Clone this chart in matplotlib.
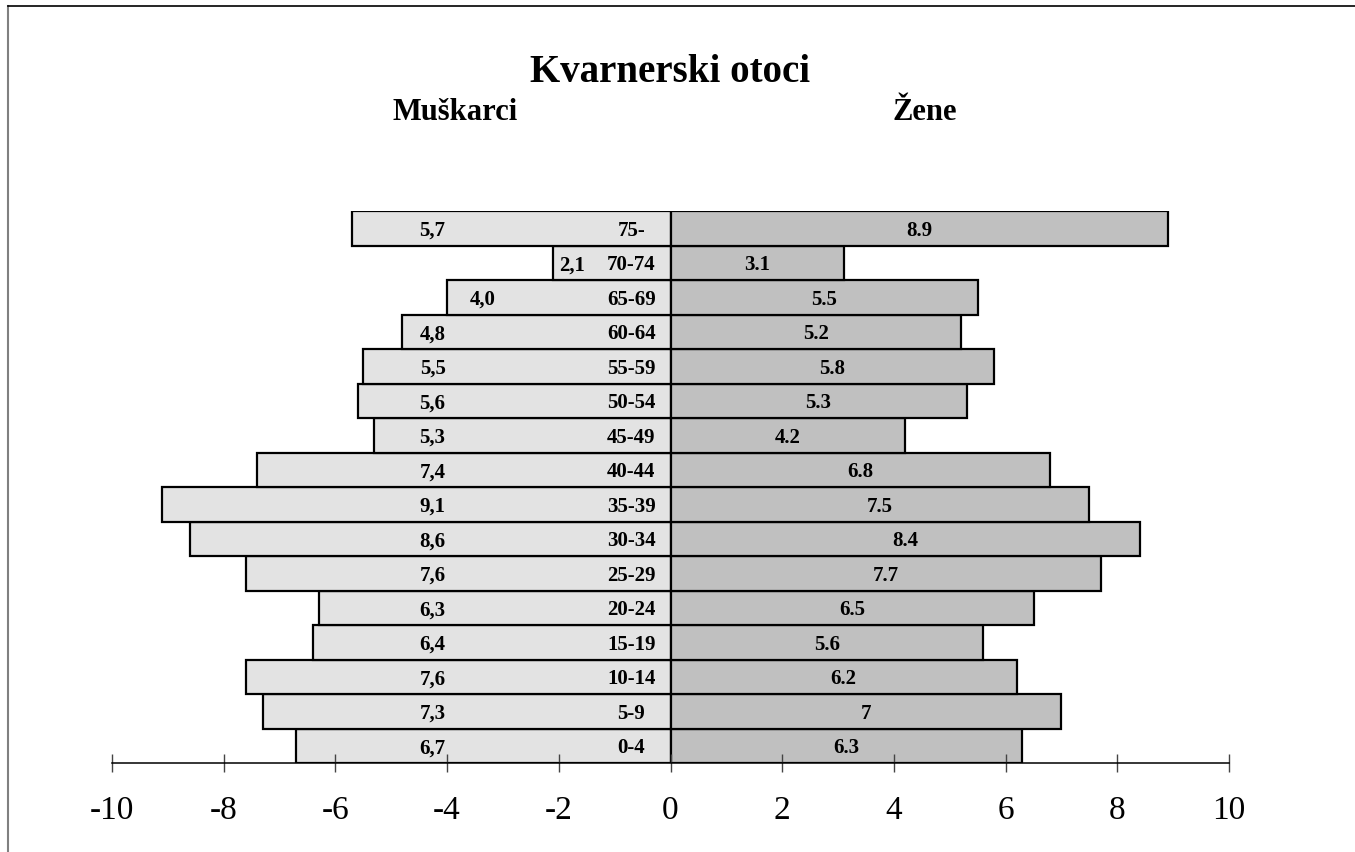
import numpy as np
import matplotlib.pyplot as plt
from matplotlib.lines import Line2D

# Dobne skupine (od najmlađe prema najstarijoj)
ages = ['0-4', '5-9', '10-14', '15-19', '20-24', '25-29', '30-34', '35-39',
        '40-44', '45-49', '50-54', '55-59', '60-64', '65-69', '70-74', '75-']
men = [6.7, 7.3, 7.6, 6.4, 6.3, 7.6, 8.6, 9.1, 7.4, 5.3, 5.6, 5.5, 4.8, 4.0, 2.1, 5.7]
women = [6.3, 7.0, 6.2, 5.6, 6.5, 7.7, 8.4, 7.5, 6.8, 4.2, 5.3, 5.8, 5.2, 5.5, 3.1, 8.9]
men_labels = ['6,7', '7,3', '7,6', '6,4', '6,3', '7,6', '8,6', '9,1', '7,4', '5,3',
              '5,6', '5,5', '4,8', '4,0', '2,1', '5,7']
women_labels = ['6.3', '7', '6.2', '5.6', '6.5', '7.7', '8.4', '7.5', '6.8', '4.2',
                '5.3', '5.8', '5.2', '5.5', '3.1', '8.9']
xticks = [-10, -8, -6, -4, -2, 0, 2, 4, 6, 8, 10]

plt.rcParams['font.family'] = ['Liberation Serif', 'DejaVu Serif']

fig = plt.figure(figsize=(13.55, 8.53), dpi=100)
ax = fig.add_axes([112 / 1355, 89 / 853, 1117 / 1355, 552 / 853])

y = np.arange(len(ages))
m = np.array(men)
w = np.array(women)

ax.barh(y, -m, height=1.0, color='#e3e3e3', edgecolor='black', linewidth=1.6)
ax.barh(y, w, height=1.0, color='#c0c0c0', edgecolor='black', linewidth=1.6)

for i in range(len(ages)):
    # kratke trake: oznaka bliže kraju trake
    xm = -4.26 if m[i] >= 4.5 else -0.84 * m[i]
    yy = y[i] - 0.05
    ax.text(xm, yy, men_labels[i], ha='center', va='center',
            fontsize=15, fontweight='bold')
    ax.text(-0.7, yy, ages[i], ha='center', va='center',
            fontsize=15, fontweight='bold')
    ax.text(w[i] / 2, yy, women_labels[i], ha='center', va='center',
            fontsize=15, fontweight='bold')

ax.set_xlim(-10, 10)
ax.set_ylim(-0.5, len(ages) - 0.5)
for s in ['top', 'left', 'right']:
    ax.spines[s].set_visible(False)
ax.spines['bottom'].set_linewidth(1.1)
ax.set_yticks([])
ax.set_xticks(xticks)
ax.set_xticklabels([str(t) for t in xticks], fontsize=24)
ax.tick_params(axis='x', direction='inout', length=13, width=1.0,
               color='#444444', pad=16)

fig.text(670 / 1355, 1 - 72 / 853, 'Kvarnerski otoci', ha='center', va='center',
         fontsize=28, fontweight='bold')
fig.text(455 / 1355, 1 - 112 / 853, 'Muškarci', ha='center', va='center',
         fontsize=22, fontweight='bold')
fig.text(925 / 1355, 1 - 112 / 853, 'Žene', ha='center', va='center',
         fontsize=22, fontweight='bold')

# okvir slike
fig.add_artist(Line2D([8 / 1355, 8 / 1355], [0, 1 - 7 / 853], color='#808080', lw=1.5))
fig.add_artist(Line2D([8 / 1355, 1], [1 - 7 / 853, 1 - 7 / 853], color='black', lw=1.2))

fig.savefig('out.png', dpi=100)
